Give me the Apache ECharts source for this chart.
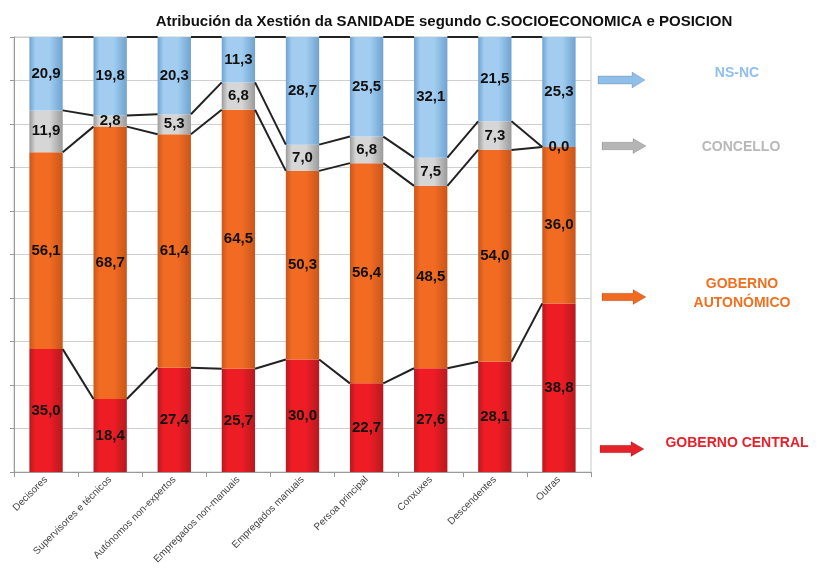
<!DOCTYPE html>
<html><head><meta charset="utf-8">
<script src="https://cdn.jsdelivr.net/npm/echarts@6/dist/echarts.min.js"></script>
<style>html,body{margin:0;padding:0;background:#fff}#c{width:820px;height:582px}</style>
</head><body><div id="c"></div>
<script>
var categories = ['Decisores','Supervisores e técnicos','Autónomos non-expertos','Empregados non-manuais','Empregados manuais','Persoa principal','Conxuxes','Descendentes','Outras'];
var gobernoCentral = [35.0, 18.4, 27.4, 25.7, 30.0, 22.7, 27.6, 28.1, 38.8];
var gobernoAutonomico = [56.1, 68.7, 61.4, 64.5, 50.3, 56.4, 48.5, 54.0, 36.0];
var concello = [11.9, 2.8, 5.3, 6.8, 7.0, 6.8, 7.5, 7.3, 0.0];
var nsnc = [20.9, 19.8, 20.3, 11.3, 28.7, 25.5, 32.1, 21.5, 25.3];
var seriesNames = ['GOBERNO CENTRAL','GOBERNO AUTONÓMICO','CONCELLO','NS-NC'];

var raw = [gobernoCentral, gobernoAutonomico, concello, nsnc];
var totals = categories.map(function(_, i){ return raw.reduce(function(s, a){ return s + a[i]; }, 0); });
var pct = raw.map(function(a){ return a.map(function(v, i){ return v / totals[i] * 100; }); });
var cum = [];
(function(){
  var run = categories.map(function(){ return 0; });
  pct.forEach(function(a){
    run = run.map(function(r, i){ return r + a[i]; });
    cum.push(run.slice());
  });
})();

function grad(dark, bright){
  return new echarts.graphic.LinearGradient(0,0,1,0,[
    {offset:0,color:dark},{offset:0.18,color:bright},{offset:0.6,color:bright},{offset:1,color:dark}]);
}
var fills = [grad('#b51a1f','#ee1c24'), grad('#c9561a','#f26b22'), grad('#9a9a9a','#d6d6d6'), grad('#6fa3d0','#a2cdf0')];
var fmt = function(v){ return v.toFixed(1).replace('.', ','); };

var chart = echarts.init(document.getElementById('c'));
var BAR_FRAC = 0.52;
var series = pct.map(function(a, k){
  return {
    name: seriesNames[k], type: 'bar', stack: 'all', barWidth: (BAR_FRAC*100)+'%',
    data: a, itemStyle: {color: fills[k]},
    label: {show: true, position: 'inside', color: '#111', fontWeight: 'bold', fontSize: 15,
      fontFamily: 'Liberation Sans, Arial, sans-serif',
      formatter: function(p){ return fmt(raw[k][p.dataIndex]); }},
    z: 2
  };
});
series.push({
  type: 'custom', z: 5, silent: true,
  data: categories.slice(0, -1).map(function(_, i){ return [i]; }),
  renderItem: function(params, api){
    var i = api.value(0);
    var half = api.size([1, 0])[0] * BAR_FRAC / 2;
    var children = cum.map(function(c){
      var p1 = api.coord([i, c[i]]), p2 = api.coord([i + 1, c[i + 1]]);
      return {type: 'line', shape: {x1: p1[0] + half, y1: p1[1], x2: p2[0] - half, y2: p2[1]},
        style: {stroke: '#222', lineWidth: 2}};
    });
    return {type: 'group', children: children};
  }
});

function arrow(x, y, w, h, color){
  var head = 13, sh = h/2;
  return {type: 'polygon', shape: {points: [[x, y - sh/2],[x + w - head, y - sh/2],[x + w - head, y - h/2],[x + w, y],[x + w - head, y + h/2],[x + w - head, y + sh/2],[x, y + sh/2]]},
    style: {fill: color, stroke: 'rgba(0,0,0,0.15)', lineWidth: 1}};
}
var legendFont = 'bold 14px Liberation Sans, Arial, sans-serif';
chart.setOption({
  animation: false,
  title: {text: 'Atribución da Xestión da SANIDADE segundo C.SOCIOECONOMICA e POSICION', left: 439, top: 9, textAlign: 'center',
    textStyle: {fontSize: 15, fontWeight: 'bold', color: '#111', fontFamily: 'Liberation Sans, Arial, sans-serif'}},
  grid: {left: 14, right: 229, top: 37, bottom: 110, show: true, borderColor: '#c8c8c8', borderWidth: 1},
  xAxis: {type: 'category', data: categories,
    axisLine: {lineStyle: {color: '#999'}}, axisTick: {show: true, lineStyle: {color: '#999'}},
    axisLabel: {rotate: 45, color: '#444', fontSize: 10, fontFamily: 'Liberation Sans, Arial, sans-serif', margin: 6, interval: 0}},
  yAxis: {type: 'value', min: 0, max: 100, interval: 10,
    axisLabel: {show: false}, axisLine: {show: true, lineStyle: {color: '#999'}}, axisTick: {show: true, length: 4, inside: false, lineStyle: {color: '#999'}},
    splitLine: {lineStyle: {color: '#cfcfcf'}}},
  series: series,
  graphic: [
    arrow(598, 80, 47, 16, '#8fc0ea'),
    arrow(602, 146, 44, 15, '#b5b5b5'),
    arrow(602, 297, 44, 15, '#f06a22'),
    arrow(600, 449, 44, 15, '#e3222a'),
    {type: 'text', x: 737, y: 73, style: {text: 'NS-NC', font: legendFont, fill: '#8fc0ea', align: 'center', verticalAlign: 'middle'}},
    {type: 'text', x: 741, y: 147, style: {text: 'CONCELLO', font: legendFont, fill: '#b8b8b8', align: 'center', verticalAlign: 'middle'}},
    {type: 'text', x: 742, y: 294, style: {text: 'GOBERNO\nAUTONÓMICO', font: legendFont, lineHeight: 19, fill: '#f07020', align: 'center', verticalAlign: 'middle'}},
    {type: 'text', x: 737, y: 443, style: {text: 'GOBERNO CENTRAL', font: legendFont, fill: '#e8202a', align: 'center', verticalAlign: 'middle'}}
  ]
});
</script></body></html>
